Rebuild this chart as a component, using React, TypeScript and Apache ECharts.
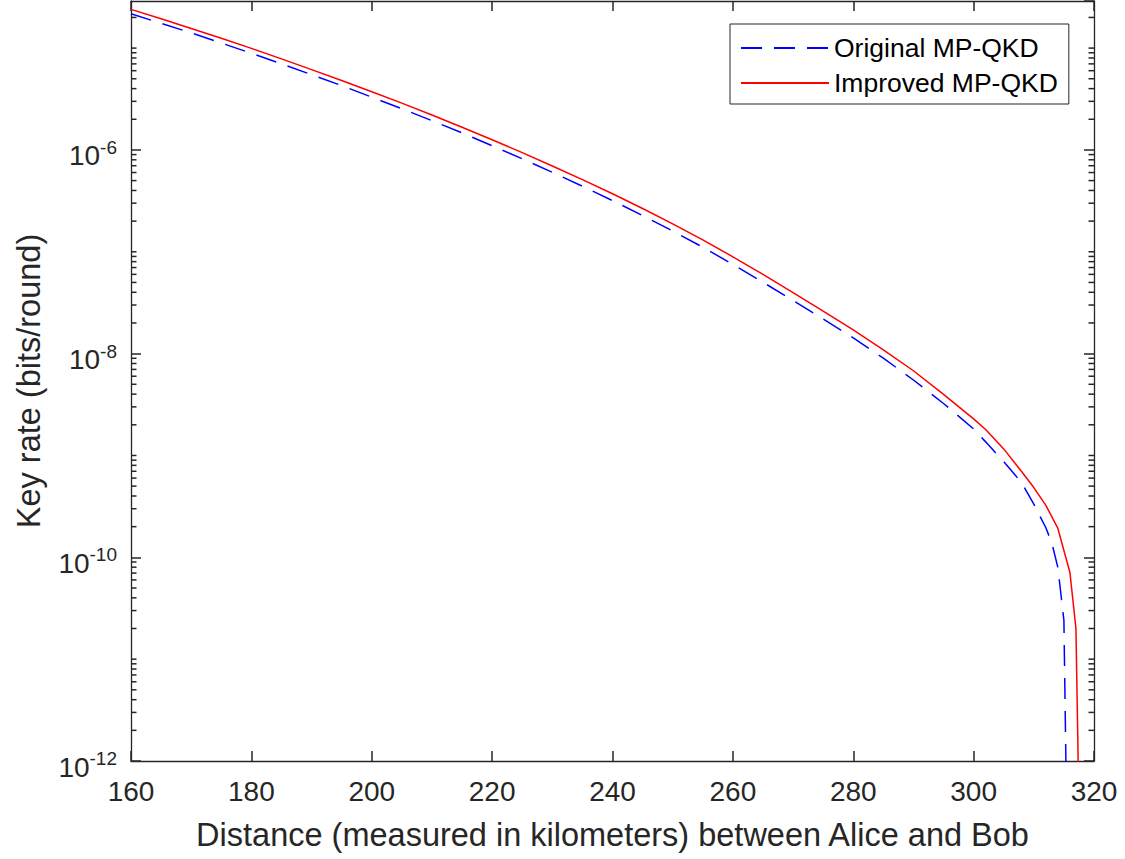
import React, { useEffect, useRef } from "react";
import * as echarts from "echarts";

// Distance (km) and key rate (bits/round)
const originalDistance = [160, 165, 170, 175, 180, 185, 190, 195, 200, 205, 210, 215, 220, 225, 230, 235, 240, 245, 250, 255, 260, 265, 270, 275, 280, 285, 290, 295, 300, 302, 305, 308, 310, 312, 313, 314, 315, 316];
const originalRate = [2.17e-5, 1.75e-5, 1.41e-5, 1.12e-5, 8.89e-6, 7.0e-6, 5.48e-6, 4.28e-6, 3.3e-6, 2.54e-6, 1.94e-6, 1.47e-6, 1.1e-6, 8.18e-7, 6.03e-7, 4.4e-7, 3.18e-7, 2.27e-7, 1.6e-7, 1.11e-7, 7.52e-8, 5.02e-8, 3.32e-8, 2.19e-8, 1.43e-8, 9.02e-9, 5.51e-9, 3.24e-9, 1.82e-9, 1.36e-9, 8.69e-10, 5.37e-10, 3.33e-10, 1.95e-10, 1.38e-10, 7.94e-11, 2.4e-11, 1.58e-15];

const improvedDistance = [160, 165, 170, 175, 180, 185, 190, 195, 200, 205, 210, 215, 220, 225, 230, 235, 240, 245, 250, 255, 260, 265, 270, 275, 280, 285, 290, 295, 300, 302, 305, 308, 310, 312, 314, 316, 317, 318];
const improvedRate = [2.4e-5, 1.94e-5, 1.56e-5, 1.25e-5, 9.93e-6, 7.83e-6, 6.15e-6, 4.81e-6, 3.73e-6, 2.88e-6, 2.2e-6, 1.67e-6, 1.26e-6, 9.4e-7, 6.95e-7, 5.11e-7, 3.71e-7, 2.66e-7, 1.88e-7, 1.31e-7, 8.93e-8, 6.0e-8, 3.97e-8, 2.62e-8, 1.71e-8, 1.09e-8, 6.79e-9, 3.98e-9, 2.29e-9, 1.8e-9, 1.16e-9, 6.92e-10, 4.84e-10, 3.24e-10, 1.92e-10, 7.1e-11, 2.0e-11, 6.31e-15];

const seriesNames = ["Original MP-QKD", "Improved MP-QKD"];
const xMin = 160;
const xMax = 320;
const xInterval = 20;
const yMin = 1e-12;
const yMax = 2.9e-5;
const yMajorExponents = [-12, -10, -8, -6];

const axisColor = "#262626";
const fontFamily = "'Liberation Sans', Arial, Helvetica, sans-serif";

function toLog(v: number) {
  return Math.log10(v);
}

export default function App() {
  const ref = useRef<HTMLDivElement>(null);

  useEffect(() => {
    if (!ref.current) return;
    const chart = echarts.init(ref.current, undefined, { renderer: "svg" });

    const logMin = toLog(yMin);
    const logMax = toLog(yMax);
    // minor ticks of a base-10 log axis: 2..9 x 10^n, plus the decades without a label
    const minorLogs: number[] = [];
    for (let n = Math.floor(logMin); n <= Math.ceil(logMax); n++) {
      if (!yMajorExponents.includes(n) && n >= logMin && n <= logMax) minorLogs.push(n);
      for (let k = 2; k <= 9; k++) {
        const v = n + Math.log10(k);
        if (v >= logMin && v <= logMax) minorLogs.push(v);
      }
    }

    const lineW = 1.3;
    const majorY = (position: "left" | "right", labels: boolean) => ({
      type: "value",
      position,
      min: logMin,
      max: logMax,
      interval: 2,
      axisLine: { show: true, onZero: false, lineStyle: { color: axisColor, width: lineW } },
      axisTick: { show: true, inside: true, length: 10, lineStyle: { color: axisColor, width: 1.5 } },
      axisLabel: labels
        ? {
            show: true,
            margin: 14,
            showMaxLabel: false,
            color: axisColor,
            fontFamily,
            formatter: (v: number) => (yMajorExponents.includes(Math.round(v)) ? `{a|10}{b|${Math.round(v)}}` : ""),
            rich: {
              a: { fontSize: 28, fontFamily, color: axisColor, padding: [12, 0, 0, 0] },
              b: { fontSize: 19, fontFamily, color: axisColor, padding: [0, 0, 5, 0] },
            },
          }
        : { show: false },
      splitLine: { show: false },
      ...(labels
        ? {
            name: "Key rate (bits/round)",
            nameLocation: "middle",
            nameGap: 86,
            nameTextStyle: { fontSize: 32.5, fontFamily, color: axisColor },
          }
        : {}),
    });
    const xAxisCfg = (position: "top" | "bottom", labels: boolean) => ({
      type: "value",
      position,
      min: xMin,
      max: xMax,
      interval: xInterval,
      axisLine: { show: true, onZero: false, lineStyle: { color: axisColor, width: lineW } },
      axisTick: { show: true, inside: true, length: 10, lineStyle: { color: axisColor, width: 1.5 } },
      axisLabel: labels
        ? { show: true, fontSize: 28, fontFamily, color: axisColor, margin: 16 }
        : { show: false },
      splitLine: { show: false },
      ...(labels
        ? {
            name: "Distance (measured in kilometers) between Alice and Bob",
            nameLocation: "middle",
            nameGap: 57,
            nameTextStyle: { fontSize: 32.5, fontFamily, color: axisColor },
          }
        : {}),
    });

    chart.setOption({
      animation: false,
      backgroundColor: "#ffffff",
      grid: { left: 131, right: 31, top: 1, bottom: 98, containLabel: false },
      xAxis: [xAxisCfg("bottom", true), xAxisCfg("top", false)],
      yAxis: [majorY("left", true), majorY("right", false)],
      legend: {
        orient: "vertical",
        left: 730,
        top: 24,
        padding: [6.5, 11, 3.5, 10],
        itemGap: 0,
        itemWidth: 88,
        itemHeight: 14,
        backgroundColor: "#ffffff",
        borderColor: axisColor,
        borderWidth: 1,
        borderRadius: 0,
        itemStyle: { color: "rgba(0,0,0,0)", borderWidth: 0, opacity: 0 },
        textStyle: { fontSize: 26.5, fontFamily, color: "#000000", lineHeight: 35 },
        data: seriesNames,
      },
      series: [
        {
          name: "minor ticks",
          type: "custom",
          xAxisIndex: 0,
          yAxisIndex: 0,
          silent: true,
          clip: false,
          z: 5,
          encode: { x: 0, y: 1 },
          data: minorLogs.map((v) => [xMin, v]),
          renderItem: (params: any, api: any) => {
            const left = api.coord([xMin, api.value(1)]);
            const right = api.coord([xMax, api.value(1)]);
            return {
              type: "group",
              children: [
                { type: "rect", shape: { x: left[0], y: left[1] - 0.75, width: 5.5, height: 1.5 }, style: { fill: axisColor } },
                { type: "rect", shape: { x: right[0] - 5.5, y: right[1] - 0.75, width: 5.5, height: 1.5 }, style: { fill: axisColor } },
              ],
            };
          },
        },
        {
          name: seriesNames[0],
          type: "line",
          xAxisIndex: 0,
          yAxisIndex: 0,
          symbol: "none",
          clip: true,
          lineStyle: { color: "#0000ff", width: 1.5, type: [21, 12] },
          itemStyle: { color: "#0000ff" },
          data: originalDistance.map((d, i) => [d, toLog(originalRate[i])]),
        },
        {
          name: seriesNames[1],
          type: "line",
          xAxisIndex: 0,
          yAxisIndex: 0,
          symbol: "none",
          clip: true,
          lineStyle: { color: "#ff0000", width: 1.5, type: "solid" },
          itemStyle: { color: "#ff0000" },
          data: improvedDistance.map((d, i) => [d, toLog(improvedRate[i])]),
        },
      ],
    });

    return () => chart.dispose();
  }, []);

  return (
    <div
      ref={ref}
      style={{ position: "absolute", left: 0, top: 0, width: 1125, height: 859, background: "#ffffff" }}
    />
  );
}
